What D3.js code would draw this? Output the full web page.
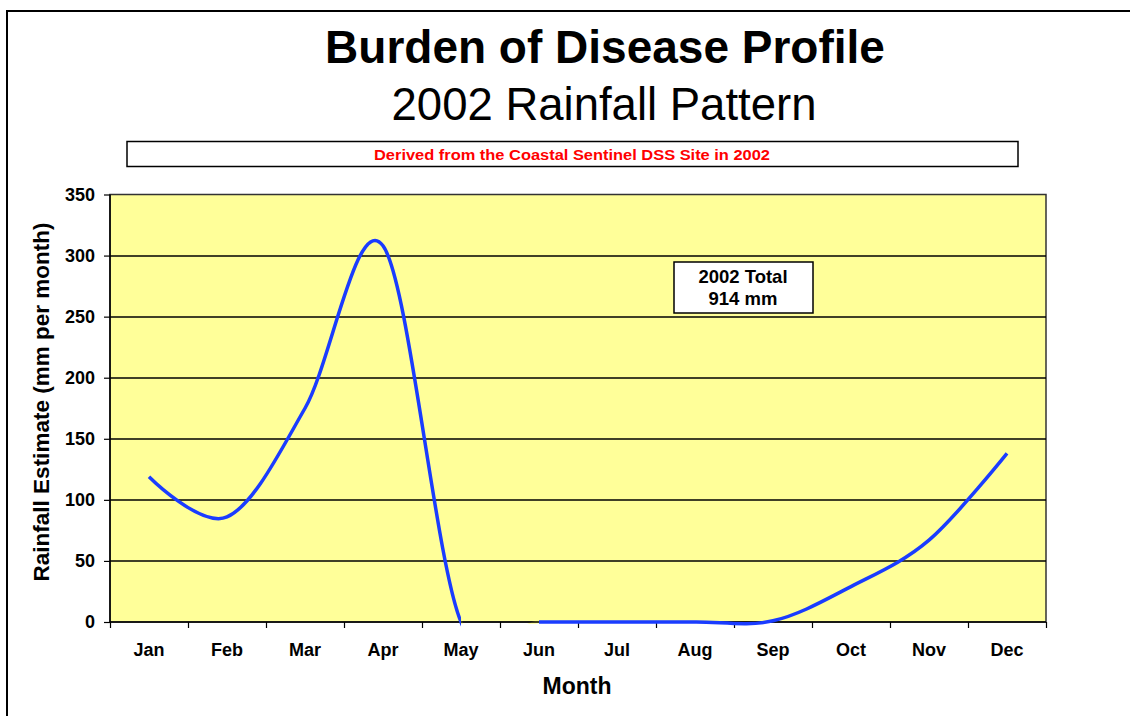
<!DOCTYPE html>
<html>
<head>
<meta charset="utf-8">
<script src="https://cdn.jsdelivr.net/npm/d3@7/dist/d3.min.js"></script>
<style>
  body { margin: 0; background: #fff; }
  svg { display: block; font-family: "Liberation Sans", Arial, sans-serif; }
  .axis path { display: none; }
  .axis line { stroke: #000; stroke-width: 1.2; }
  .axis text { font-size: 18px; font-weight: bold; fill: #000; }
</style>
</head>
<body>
<div id="chart"></div>
<script>
// chart data
var months = ["Jan", "Feb", "Mar", "Apr", "May", "Jun", "Jul", "Aug", "Sep", "Oct", "Nov", "Dec"];
var rainfall = [119, 86, 175, 308, 0, 0, 0, 0, 1, 29, 67, 138];
var yTicks = [0, 50, 100, 150, 200, 250, 300, 350];
var hiddenFrom = "May", hiddenTo = "Jun";   // segment drawn in background colour
var titleText = "Burden of Disease Profile";
var subTitleText = "2002 Rainfall Pattern";
var sourceText = "Derived  from the Coastal Sentinel DSS Site in 2002";
var totalLines = ["2002 Total", "914 mm"];

var W = 1130, H = 716;
var margin = { top: 194.5, right: 84, bottom: 94, left: 110 };
var width = W - margin.left - margin.right;
var height = H - margin.top - margin.bottom;

var svg = d3.select("#chart").append("svg")
    .attr("width", W)
    .attr("height", H);

// outer frame
svg.append("rect")
    .attr("x", 7).attr("y", 11)
    .attr("width", W + 20).attr("height", H + 20)
    .attr("fill", "#fff")
    .attr("stroke", "#000")
    .attr("stroke-width", 2);

// titles
svg.append("text")
    .attr("x", 605).attr("y", 63)
    .attr("text-anchor", "middle")
    .style("font-size", "46px").style("font-weight", "bold")
    .text(titleText);

svg.append("text")
    .attr("x", 604).attr("y", 120)
    .attr("text-anchor", "middle")
    .style("font-size", "45.5px")
    .text(subTitleText);

// source box
svg.append("rect")
    .attr("x", 127).attr("y", 141.5)
    .attr("width", 891).attr("height", 25)
    .attr("fill", "#fff")
    .attr("stroke", "#000")
    .attr("stroke-width", 1.5);
svg.append("text")
    .attr("x", 572).attr("y", 159.5)
    .attr("text-anchor", "middle")
    .attr("textLength", 396)
    .attr("lengthAdjust", "spacingAndGlyphs")
    .style("font-size", "14px").style("font-weight", "bold")
    .attr("fill", "#ff0000")
    .text(sourceText);

var g = svg.append("g")
    .attr("transform", "translate(" + margin.left + "," + margin.top + ")");

var x = d3.scaleBand().domain(months).range([0, width]);
var xEdge = d3.scaleLinear().domain([0, months.length]).range([0, width]);
var y = d3.scaleLinear().domain([0, 350]).range([height, 0]);
function cx(m) { return x(m) + x.bandwidth() / 2; }

// plot area
g.append("rect")
    .attr("width", width).attr("height", height)
    .attr("fill", "#ffff99")
    .attr("stroke", "#333")
    .attr("stroke-width", 1.5);

// grid lines
g.append("g").selectAll("line")
    .data(yTicks.filter(function (d) { return d > 0 && d < 350; }))
    .enter().append("line")
    .attr("x1", 0).attr("x2", width)
    .attr("y1", function (d) { return Math.round(y(d)) + 0.5; })
    .attr("y2", function (d) { return Math.round(y(d)) + 0.5; })
    .attr("stroke", "#000")
    .attr("stroke-width", 1.3);

// y axis
g.append("g")
    .attr("class", "axis y")
    .call(d3.axisLeft(y).tickValues(yTicks).tickSize(6).tickPadding(9));
g.append("line")
    .attr("x1", 0).attr("x2", 0).attr("y1", 0).attr("y2", height)
    .attr("stroke", "#000").attr("stroke-width", 1.5);

// x axis: ticks at category edges, labels centred
g.append("g")
    .attr("class", "axis x")
    .attr("transform", "translate(0," + height + ")")
    .call(d3.axisBottom(xEdge).ticks(months.length).tickSize(6).tickFormat(""));
g.append("g")
    .attr("class", "axis x-labels")
    .attr("transform", "translate(0," + height + ")")
    .call(d3.axisBottom(x).tickSize(0).tickPadding(21));

// axis titles
svg.append("text")
    .attr("x", 577).attr("y", 694)
    .attr("text-anchor", "middle")
    .style("font-size", "23px").style("font-weight", "bold")
    .text("Month");

svg.append("text")
    .attr("transform", "translate(49,402) rotate(-90)")
    .attr("text-anchor", "middle")
    .style("font-size", "22.5px").style("font-weight", "bold")
    .text("Rainfall Estimate (mm per month)");

// line
var data = months.map(function (m, i) { return { month: m, value: rainfall[i] }; });
var rainLine = d3.line()
    .x(function (d) { return cx(d.month); })
    .y(function (d) { return y(d.value); })
    .curve(d3.curveCardinal.tension(0));

var defs = svg.append("defs");
var clipShow = defs.append("clipPath").attr("id", "clip-show");
clipShow.append("rect")
    .attr("x", -20).attr("y", -50)
    .attr("width", cx(hiddenFrom) + 20).attr("height", height + 100);
clipShow.append("rect")
    .attr("x", cx(hiddenTo)).attr("y", -50)
    .attr("width", width - cx(hiddenTo) + 20).attr("height", height + 100);
defs.append("clipPath").attr("id", "clip-hide")
    .append("rect")
    .attr("x", cx(hiddenFrom)).attr("y", -50)
    .attr("width", cx(hiddenTo) - cx(hiddenFrom)).attr("height", height + 51.5);

g.append("path")
    .datum(data)
    .attr("clip-path", "url(#clip-hide)")
    .attr("fill", "none")
    .attr("stroke", "#ffff66")
    .attr("stroke-width", 3)
    .attr("d", rainLine);

// x axis line over the hidden segment
g.append("line")
    .attr("x1", 0).attr("x2", width).attr("y1", height).attr("y2", height)
    .attr("stroke", "#000").attr("stroke-width", 1.5);

g.append("path")
    .datum(data)
    .attr("clip-path", "url(#clip-show)")
    .attr("fill", "none")
    .attr("stroke", "#1a3cff")
    .attr("stroke-width", 3.5)
    .attr("stroke-linejoin", "round")
    .attr("d", rainLine);

// total box
svg.append("rect")
    .attr("x", 674).attr("y", 262)
    .attr("width", 139).attr("height", 51)
    .attr("fill", "#fff")
    .attr("stroke", "#000")
    .attr("stroke-width", 1.5);
svg.append("g").selectAll("text")
    .data(totalLines)
    .enter().append("text")
    .attr("x", 743)
    .attr("y", function (d, i) { return 283 + i * 22; })
    .attr("text-anchor", "middle")
    .style("font-size", "18.5px").style("font-weight", "bold")
    .text(function (d) { return d; });
</script>
</body>
</html>
